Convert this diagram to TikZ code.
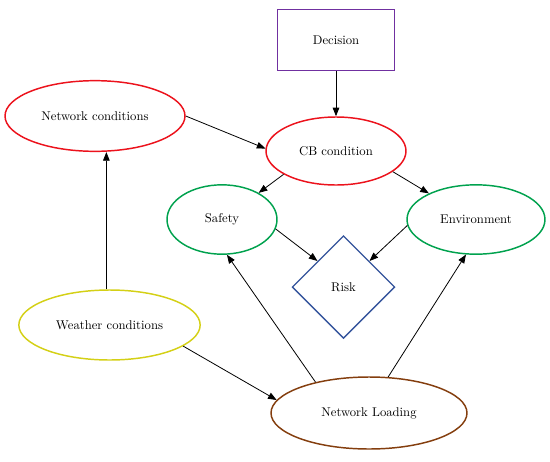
\documentclass[tikz,border=0pt]{standalone}
\usepackage{xcolor}
\usepackage{tikz}
\usetikzlibrary{shapes.geometric, arrows.meta}
\definecolor{condred}{RGB}{236,18,28}
\definecolor{decpurple}{RGB}{112,48,160}
\definecolor{effgreen}{RGB}{0,162,78}
\definecolor{riskblue}{RGB}{52,84,156}
\definecolor{wxyellow}{RGB}{212,208,22}
\definecolor{loadbrown}{RGB}{132,62,14}

\begin{document}
\begin{tikzpicture}[
  x=0.75pt, y=-0.75pt,
  state/.style={ellipse, draw, fill=white, inner sep=0pt, align=center,
                font=\fontsize{9.5}{11}\selectfont, line width=1.1pt},
  decbox/.style={rectangle, draw=decpurple, fill=white, align=center,
                 minimum width=88pt, minimum height=45.5pt,
                 font=\fontsize{9.5}{11}\selectfont, line width=1.1pt},
  riskbox/.style={diamond, draw=riskblue, fill=white, inner sep=0pt,
                  minimum size=77pt, font=\fontsize{9.5}{11}\selectfont, line width=1pt},
  arr/.style={-{Triangle[length=6.5pt, width=5pt]}, line width=0.6pt, color=black}
]
\useasboundingbox (0,0) rectangle (550,461);

  % Decision
  \node[decbox] (dec) at (336, 40) {Decision};

  % Conditions
  \node[state, draw=condred, minimum width=135pt, minimum height=53pt]
        (nc) at (95, 116) {Network conditions};
  \node[state, draw=condred, minimum width=105pt, minimum height=51pt]
        (cb) at (336, 151) {CB condition};

  % Effects
  \node[state, draw=effgreen, minimum width=82.5pt, minimum height=52pt]
        (saf) at (222, 219.5) {Safety};
  \node[state, draw=effgreen, minimum width=103.5pt, minimum height=52pt]
        (env) at (476, 219.5) {Environment};

  % Risk
  \node[riskbox] (risk) at (343.5, 287) {Risk};

  % Weather and loading
  \node[state, draw=wxyellow, minimum width=136pt, minimum height=52.5pt]
        (wc) at (109.5, 325) {Weather conditions};
  \node[state, draw=loadbrown, minimum width=147pt, minimum height=54pt]
        (nl) at (369, 413) {Network Loading};

  % ── Arrows ────────────────────────────────────────────────────────────
  \draw[arr] (dec) -- (cb);
  \draw[arr] (nc.east) -- (cb.178);

  % CB condition → effects
  \draw[arr] (cb.204) -- (saf.36);
  \draw[arr] (cb.340) -- (env.151);

  % effects → risk
  \draw[arr] (saf.350) -- (risk.north west);
  \draw[arr] (env.185) -- (risk.north east);

  % weather
  \draw[arr] (wc.95) -- (wc.95 |- nc.south);
  \draw[arr] (wc.344) -- (nl.172);

  % loading → effects
  \draw[arr] (nl.150) -- (saf.278);
  \draw[arr] (nl.62) -- (env.254);

\end{tikzpicture}
\end{document}
